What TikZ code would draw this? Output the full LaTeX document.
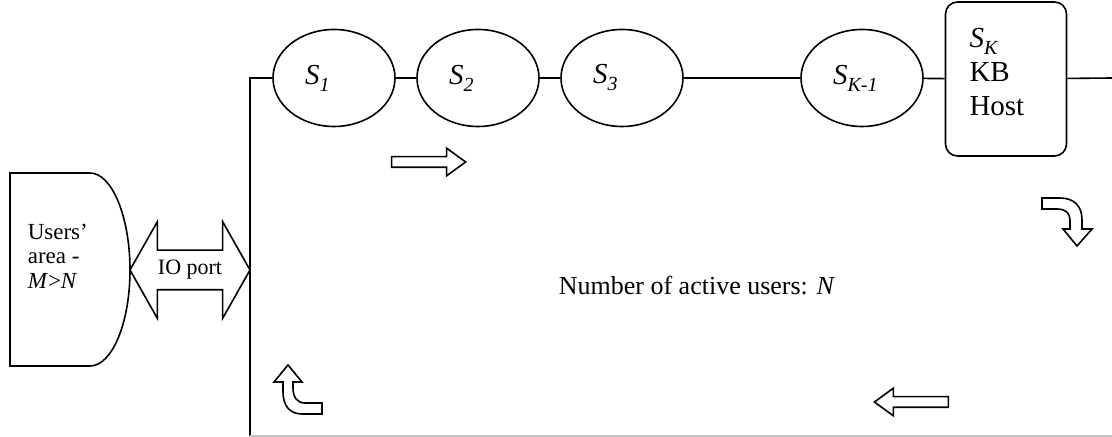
\documentclass[tikz,border=0pt]{standalone}
\usepackage{fontspec}
\setmainfont{Liberation Serif}
\usetikzlibrary{shapes.geometric,shapes.arrows}
\newcommand{\Ssub}[1]{\textit{S}\raisebox{-3.5pt}{\fontsize{10}{10}\selectfont\itshape #1}}

\begin{document}
\begin{tikzpicture}[x=0.5pt,y=-0.5pt,line width=0.8pt]
    \tikzset{site/.style = {shape=ellipse,draw,minimum width=61pt,minimum height=48.5pt,inner sep=0pt,text width=29pt,align=left,font=\fontsize{14.5}{16}\selectfont}}
    \tikzset{host/.style = {rectangle,draw,rounded corners=6pt,minimum width=60.5pt,minimum height=77pt}}
    \tikzset{flow/.style = {single arrow,draw,inner sep=2.25pt,minimum height=37pt,minimum width=13pt,single arrow head extend=4.25pt,single arrow tip angle=72}}
    \tikzset{port/.style = {double arrow,draw,inner xsep=0pt,inner ysep=4.5pt,text height=7.5pt,text depth=2.5pt,minimum height=60pt,minimum width=47.5pt,double arrow head extend=14.25pt,double arrow tip angle=121,font=\fontsize{11}{12}\selectfont}}

    \useasboundingbox (0,0) rectangle (1112,437);

    % ring of sites
    \node[site] (s1) at (334,78) {\Ssub{1}};
    \node[site] (s2) at (478,78) {\Ssub{2}};
    \node[site] (s3) at (622,78) {\Ssub{3}};
    \node[site] (sk1) at (862,78) {\Ssub{K-1}};
    \node[host, label={[anchor=north west,align=left,inner sep=0pt,font=\fontsize{14.5}{17}\selectfont,xshift=12pt,yshift=-13pt]north west:\Ssub{K}\\KB\\Host}] (kb) at (1006,79) {};

    \coordinate (corner) at (250,78);
    \coordinate (exit) at (1112,78);
    \coordinate (foot) at (250,436);
    \coordinate (floor) at (1112,436);

    \draw (foot) -- (corner) -- (s1);
    \draw (s1) -- (s2) -- (s3) -- (sk1) -- (kb) -- (exit);
    \draw[gray!45, line width=0.6pt] (foot) -- (floor);

    % users' area
    \draw (10,173) -- (90,173) .. controls (112,173) and (130,217) .. (130,270)
          .. controls (130,323) and (112,366) .. (90,366) -- (10,366) -- cycle;
    \node[align=left, anchor=west, inner sep=0pt, font=\fontsize{11.5}{12.2}\selectfont] (users) at (27,256) {Users’\\area -\\\textit{M}>\textit{N}};
    \node[port] (io) at (190,270) {IO port};

    % direction of the flow
    \node[flow, anchor=tip] (fwd) at (467,162) {};
    \node[flow, shape border rotate=180, anchor=tip] (back) at (873,402) {};
    \draw (1042,198) -- (1060,198) .. controls (1074,198) and (1082,206) .. (1082,220)
          -- (1082,229) -- (1092,229) -- (1077,246) -- (1063,229) -- (1070,229) -- (1070,220)
          .. controls (1070,213) and (1065,209) .. (1058,209) -- (1042,209) -- cycle;
    \draw (322,403) -- (305,403) .. controls (297,403) and (293,397) .. (293,388)
          -- (293,382) -- (302,382) -- (288,365) -- (274,382) -- (283,382) -- (283,392)
          .. controls (283,406) and (290,414) .. (302,414) -- (322,414) -- cycle;

    \node[font=\fontsize{13}{15}\selectfont] (count) at (697,286) {Number of active users: \textit{N}};

  \end{tikzpicture}
\end{document}
